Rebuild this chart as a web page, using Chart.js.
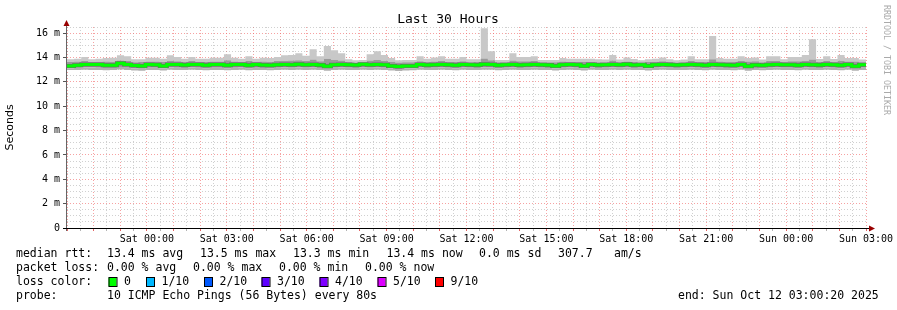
<!DOCTYPE html>
<html>
<head>
<meta charset="utf-8">
<script src="https://cdn.jsdelivr.net/npm/chart.js@4.4.1/dist/chart.umd.min.js"></script>
<style>
  html, body { margin: 0; padding: 0; background: #fff; }
  canvas { display: block; }
</style>
</head>
<body>
<canvas id="chart" width="897" height="310"></canvas>
<script>
// Last 30 hours up to Sun Oct 12 03:00:20 2025, 16 min bins (ms)
const spanHours = 30;
const tickHours = [3, 6, 9, 12, 15, 18, 21, 24, 27, 30];
const tickLabels = ['Sat 00:00', 'Sat 03:00', 'Sat 06:00', 'Sat 09:00', 'Sat 12:00',
                    'Sat 15:00', 'Sat 18:00', 'Sat 21:00', 'Sun 00:00', 'Sun 03:00'];

const maxVals = [
  13.85,13.90,14.04,13.85,13.90,13.95,13.97,14.18,14.10,13.85,13.85,13.97,13.97,13.90,14.18,14.04,
  13.90,14.04,13.90,13.90,13.97,13.97,14.26,13.97,13.90,14.10,13.90,13.97,13.95,14.04,14.18,14.20,
  14.34,14.15,14.67,14.10,14.94,14.59,14.34,13.85,13.77,13.80,14.26,14.50,14.20,13.96,13.77,13.80,
  13.80,14.10,13.90,14.00,14.10,13.90,13.90,14.04,13.85,13.85,16.39,14.50,13.80,13.80,14.34,14.04,
  14.04,14.10,13.80,13.80,13.80,13.96,13.90,13.90,13.90,13.90,13.85,13.83,14.20,13.83,14.00,13.87,
  13.77,13.85,13.90,14.00,13.85,13.77,13.83,14.10,13.85,13.85,15.77,13.96,13.90,13.90,14.10,13.96,
  14.00,13.83,14.10,14.10,13.85,14.04,14.04,14.20,15.50,13.87,14.10,13.87,14.20,13.96,13.96,13.83
];
const upperVals = [
  13.62,13.66,13.70,13.62,13.64,13.66,13.64,13.74,13.70,13.60,13.62,13.66,13.66,13.62,13.72,13.68,
  13.64,13.70,13.64,13.62,13.66,13.66,13.78,13.66,13.62,13.70,13.64,13.66,13.64,13.70,13.72,13.74,
  13.78,13.70,13.84,13.68,13.90,13.80,13.76,13.62,13.58,13.60,13.74,13.80,13.72,13.64,13.58,13.60,
  13.60,13.68,13.62,13.66,13.70,13.62,13.62,13.68,13.60,13.62,13.92,13.78,13.60,13.60,13.76,13.68,
  13.68,13.70,13.60,13.60,13.60,13.66,13.62,13.62,13.64,13.62,13.60,13.60,13.74,13.60,13.66,13.62,
  13.58,13.62,13.64,13.68,13.62,13.58,13.60,13.70,13.62,13.62,13.86,13.66,13.64,13.64,13.70,13.66,
  13.68,13.60,13.70,13.70,13.62,13.68,13.68,13.72,13.84,13.62,13.70,13.62,13.72,13.66,13.66,13.60
];
const medianVals = [
  13.30,13.36,13.42,13.42,13.42,13.36,13.36,13.52,13.42,13.33,13.30,13.42,13.40,13.30,13.42,13.42,
  13.38,13.42,13.42,13.36,13.42,13.42,13.36,13.42,13.42,13.36,13.42,13.38,13.36,13.40,13.42,13.40,
  13.44,13.40,13.42,13.38,13.27,13.40,13.42,13.40,13.38,13.44,13.40,13.42,13.40,13.30,13.26,13.30,
  13.30,13.42,13.38,13.40,13.42,13.40,13.36,13.42,13.40,13.38,13.44,13.42,13.36,13.40,13.42,13.38,
  13.40,13.42,13.40,13.38,13.30,13.40,13.42,13.40,13.30,13.42,13.38,13.40,13.42,13.40,13.44,13.38,
  13.40,13.30,13.40,13.42,13.40,13.38,13.40,13.42,13.40,13.36,13.42,13.40,13.38,13.36,13.42,13.28,
  13.38,13.36,13.40,13.42,13.40,13.40,13.36,13.42,13.40,13.38,13.42,13.40,13.36,13.42,13.28,13.40
];
const lowerVals = [
  13.12,13.16,13.18,13.18,13.16,13.14,13.14,13.22,13.16,13.10,13.08,13.16,13.16,13.10,13.18,13.16,
  13.14,13.18,13.16,13.12,13.16,13.16,13.12,13.16,13.18,13.12,13.16,13.14,13.12,13.16,13.18,13.16,
  13.18,13.16,13.18,13.14,13.08,13.16,13.18,13.16,13.14,13.18,13.16,13.18,13.16,13.10,13.06,13.10,
  13.12,13.18,13.14,13.16,13.18,13.16,13.12,13.18,13.16,13.14,13.18,13.18,13.12,13.16,13.18,13.14,
  13.16,13.18,13.16,13.14,13.10,13.16,13.18,13.16,13.10,13.18,13.14,13.16,13.18,13.16,13.18,13.14,
  13.16,13.10,13.16,13.18,13.16,13.14,13.16,13.18,13.16,13.12,13.18,13.16,13.14,13.12,13.18,13.08,
  13.14,13.12,13.16,13.18,13.16,13.16,13.12,13.18,13.16,13.14,13.18,13.16,13.12,13.18,13.08,13.16
];
const minVals = [
  12.96,12.98,13.00,12.98,12.96,12.94,12.96,13.02,12.98,12.92,12.90,12.96,12.98,12.92,13.00,12.98,
  12.96,13.00,12.98,12.94,12.98,12.96,12.94,12.98,13.00,12.94,12.98,12.96,12.94,12.98,13.00,12.98,
  13.00,12.98,13.00,12.96,12.90,12.98,13.00,12.98,12.96,13.00,12.98,13.00,12.98,12.92,12.88,12.92,
  12.94,13.00,12.96,12.98,13.00,12.98,12.94,13.00,12.98,12.96,13.00,13.00,12.94,12.98,13.00,12.96,
  12.98,13.00,12.98,12.96,12.92,12.98,13.00,12.98,12.92,13.00,12.96,12.98,13.00,12.98,13.00,12.96,
  12.98,12.92,12.98,13.00,12.98,12.96,12.98,13.00,12.98,12.94,13.00,12.98,12.96,12.94,13.00,12.90,
  12.96,12.94,12.98,13.00,12.98,12.98,12.94,13.00,12.98,12.96,13.00,12.98,12.94,13.00,12.90,12.98
];

const statLines = [
  { y: 254, parts: [['median rtt:', 16], ['13.4 ms avg', 107], ['13.5 ms max', 200], ['13.3 ms min', 293],
                    ['13.4 ms now', 386.5], ['0.0 ms sd', 479], ['307.7', 558], ['am/s', 614]] },
  { y: 268, parts: [['packet loss:', 16], ['0.00 % avg', 107], ['0.00 % max', 193], ['0.00 % min', 279],
                    ['0.00 % now', 365]] },
  { y: 282, parts: [['loss color:', 16]] },
  { y: 296, parts: [['probe:', 16], ['10 ICMP Echo Pings (56 Bytes) every 80s', 107],
                    ['end: Sun Oct 12 03:00:20 2025', 678]] }
];
const lossLabels = ['0', '1/10', '2/10', '3/10', '4/10', '5/10', '9/10'];
const lossColors = ['#00ff00', '#00b8ff', '#0059ff', '#5e00ff', '#7e00ff', '#dd00ff', '#ff0000'];
const lossBoxX = [108.5, 146, 204, 261.5, 319.5, 377.5, 435];

const binHours = spanHours / maxVals.length;
// each value holds from its bin start to the next bin start
const toPoints = (vals) => vals.map((v, i) => ({ x: i * binHours, y: v }))
  .concat([{ x: spanHours, y: vals[vals.length - 1] }]);

const mono = '"DejaVu Sans Mono", monospace';
const majorGrid = 'rgba(240, 100, 100, 0.6)';
const minorGrid = 'rgba(150, 150, 150, 0.45)';

const band = (vals, fillTo, color) => ({
  data: toPoints(vals), stepped: 'before', borderWidth: 0, borderColor: 'transparent',
  backgroundColor: color, fill: fillTo, pointRadius: 0
});

const deco = {
  id: 'deco',
  beforeDraw(chart) {
    const ctx = chart.ctx;
    ctx.save();
    ctx.fillStyle = '#fff';
    ctx.fillRect(0, 0, chart.width, chart.height);
    ctx.restore();
  },
  afterDraw(chart) {
    const { ctx, chartArea: a } = chart;
    ctx.save();
    // axes with arrows
    ctx.lineWidth = 1;
    ctx.strokeStyle = '#666';
    ctx.beginPath();
    ctx.moveTo(a.left - 0.5, a.bottom + 3);
    ctx.lineTo(a.left - 0.5, a.top - 4);
    ctx.stroke();
    ctx.strokeStyle = '#000';
    ctx.beginPath();
    ctx.moveTo(a.left - 4, a.bottom + 0.5);
    ctx.lineTo(a.right + 4, a.bottom + 0.5);
    ctx.stroke();
    ctx.fillStyle = '#900';
    ctx.beginPath();
    ctx.moveTo(a.left - 3.5, a.top - 1);
    ctx.lineTo(a.left + 2.5, a.top - 1);
    ctx.lineTo(a.left - 0.5, a.top - 7);
    ctx.closePath();
    ctx.fill();
    ctx.beginPath();
    ctx.moveTo(a.right + 3, a.bottom - 2.5);
    ctx.lineTo(a.right + 3, a.bottom + 3.5);
    ctx.lineTo(a.right + 9, a.bottom + 0.5);
    ctx.closePath();
    ctx.fill();

    // title
    ctx.fillStyle = '#000';
    ctx.textBaseline = 'middle';
    ctx.textAlign = 'center';
    ctx.font = '13px ' + mono;
    ctx.fillText('Last 30 Hours', 448, 20);

    // legend lines
    ctx.textAlign = 'left';
    ctx.font = '11.5px ' + mono;
    statLines.forEach(line => {
      line.parts.forEach(([txt, x]) => ctx.fillText(txt, x, line.y));
    });
    lossLabels.forEach((lbl, i) => {
      const bx = lossBoxX[i];
      ctx.fillStyle = lossColors[i];
      ctx.fillRect(bx, 277.5, 8, 9);
      ctx.strokeStyle = '#000';
      ctx.strokeRect(bx + 0.5, 277.5, 8, 9);
      ctx.fillStyle = '#000';
      ctx.fillText(lbl, bx + 15.5, 282);
    });

    // rrdtool watermark
    ctx.translate(886, 5);
    ctx.rotate(Math.PI / 2);
    ctx.fillStyle = '#aaa';
    ctx.font = '8.3px ' + mono;
    ctx.fillText('RRDTOOL / TOBI OETIKER', 0, 0);
    ctx.restore();
  }
};

new Chart(document.getElementById('chart'), {
  type: 'line',
  data: {
    datasets: [
      { data: toPoints(medianVals), stepped: 'before', borderColor: '#00ff00', borderWidth: 3, pointRadius: 0, fill: false },
      { data: toPoints(medianVals), stepped: 'before', borderColor: '#6a6a6a', borderWidth: 4, pointRadius: 0, fill: false },
      { data: toPoints(minVals), stepped: 'before', borderWidth: 0, borderColor: 'transparent', pointRadius: 0, fill: false },
      band(lowerVals, 2, '#b0b0b0'),
      band(upperVals, 3, '#9a9a9a'),
      band(maxVals, 4, '#c8c8c8')
    ]
  },
  options: {
    responsive: false,
    devicePixelRatio: 1,
    animation: false,
    events: [],
    layout: { padding: { left: 0, top: 27, right: 31, bottom: 60 } },
    plugins: { legend: { display: false }, tooltip: { enabled: false } },
    scales: {
      x: {
        type: 'linear', min: 0, max: spanHours,
        afterFit: s => { s.height = 22; },
        border: { display: false, dash: [1, 2] },
        grid: {
          color: c => (c.tick && c.tick.value % 1 === 0) ? majorGrid : minorGrid,
          tickColor: c => (c.tick && c.tick.value % 1 === 0) ? 'rgba(220,60,60,0.8)' : 'rgba(150,150,150,0.7)',
          tickLength: 3, lineWidth: 1
        },
        ticks: {
          stepSize: 0.5, autoSkip: false, maxRotation: 0, padding: 2, color: '#000',
          font: { family: mono, size: 10 },
          callback: v => { const i = tickHours.indexOf(v); return i >= 0 ? tickLabels[i] : ''; }
        }
      },
      y: {
        min: 0, max: 16.5,
        afterFit: s => { s.width = 67; },
        border: { display: false, dash: [1, 2] },
        grid: {
          color: c => (c.tick && c.tick.value % 2 === 0) ? majorGrid : minorGrid,
          tickColor: c => (c.tick && c.tick.value % 2 === 0) ? '#555' : 'transparent',
          tickLength: 4, lineWidth: 1
        },
        ticks: {
          stepSize: 0.5, autoSkip: false, padding: 3, color: '#000',
          font: { family: mono, size: 10 },
          callback: v => v === 0 ? '0' : (v % 2 === 0 ? v + ' m' : '')
        },
        title: {
          display: true, text: 'Seconds', color: '#000',
          font: { family: '"DejaVu Sans", sans-serif', size: 11 },
          padding: { top: 4, bottom: 0 }
        }
      }
    }
  },
  plugins: [deco]
});
</script>
</body>
</html>
